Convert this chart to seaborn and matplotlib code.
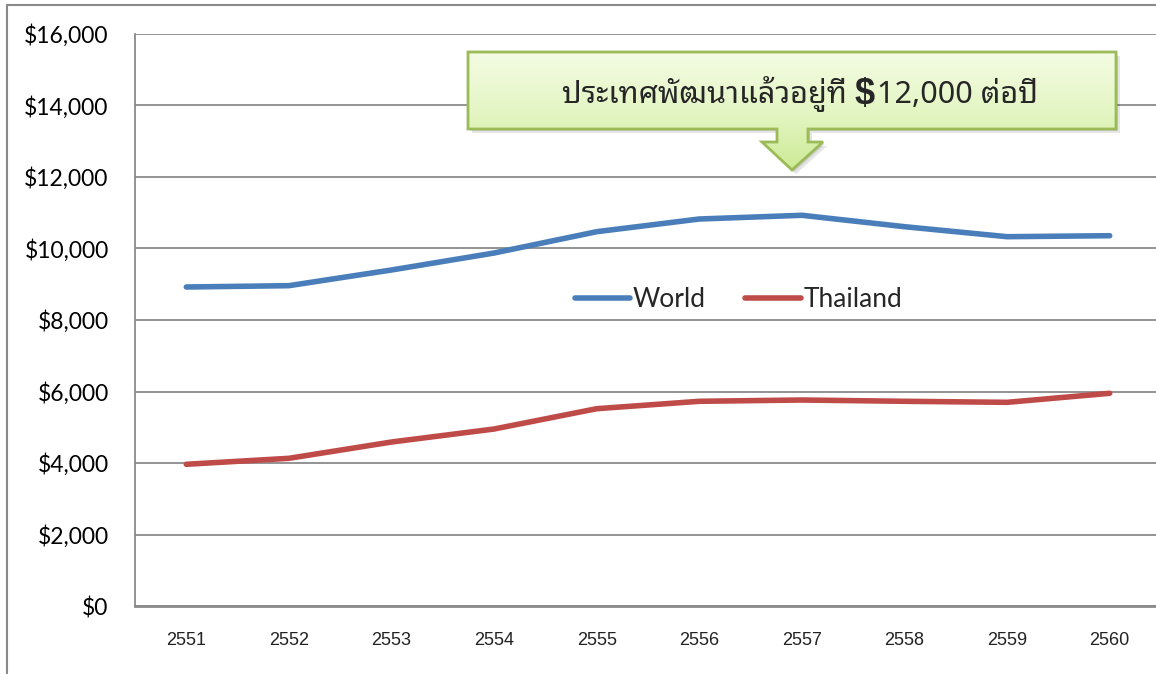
import numpy as np
import pandas as pd
import matplotlib
matplotlib.use("Agg")
import matplotlib.pyplot as plt
from matplotlib import font_manager as fm
from matplotlib.patches import Polygon
from matplotlib.colors import LinearSegmentedColormap
from matplotlib.ticker import FuncFormatter, FixedLocator
import seaborn as sns

# data
years = [2551, 2552, 2553, 2554, 2555, 2556, 2557, 2558, 2559, 2560]
world = [8923, 8960, 9399, 9874, 10470, 10825, 10929, 10610, 10330, 10358]
thailand = [3964, 4131, 4587, 4951, 5519, 5726, 5762, 5726, 5697, 5950]
series_names = ["World", "Thailand"]
series_colors = ["#4A7EBB", "#BE4B48"]
y_ticks = [0, 2000, 4000, 6000, 8000, 10000, 12000, 14000, 16000]
callout_text = "ประเทศพัฒนาแล้วอยู่ที่ "
callout_dollar = "$"
callout_amount = "12,000 ต่อปี"


def find_thai_font():
    # look for any installed family that has Thai glyphs
    try:
        from fontTools.ttLib import TTFont
    except ImportError:
        return None
    found = {}
    for f in fm.fontManager.ttflist:
        if f.name in found:
            continue
        try:
            tt = TTFont(f.fname, fontNumber=0, lazy=True)
            cmap = tt.getBestCmap()
        except Exception:
            continue
        if cmap and 0x0E1B in cmap and 0x0E48 in cmap:
            found[f.name] = f.fname
    prefs = ["Noto Sans Thai Looped", "Noto Sans Thai", "Loma", "Garuda",
             "Kinnari", "Norasi", "Waree", "Sawasdee", "Umpush", "Laksaman"]
    for p in prefs:
        if p in found:
            return p
    return next(iter(found), None)


sns.set_style("white")
thai_font = find_thai_font()
thai_family = [thai_font, "DejaVu Sans"] if thai_font else ["DejaVu Sans"]
plt.rcParams["font.family"] = ["Lato", "DejaVu Sans"]

W, H = 1156, 674
fig = plt.figure(figsize=(W / 100, H / 100), dpi=100)
fig.patch.set_facecolor("white")

# plot area in pixels: left 135, top 34, bottom 606, 102.6 px per category
ax = fig.add_axes([135 / W, (H - 606) / H, 1026 / W, 572 / H])

df = pd.DataFrame({
    "year": years * 2,
    "value": world + thailand,
    "series": [series_names[0]] * len(years) + [series_names[1]] * len(years),
})
sns.lineplot(data=df, x="year", y="value", hue="series",
             palette=dict(zip(series_names, series_colors)),
             linewidth=4, solid_capstyle="round", ax=ax)

ax.set_xlim(years[0] - 0.5, years[-1] + 0.5)
ax.set_ylim(y_ticks[0], y_ticks[-1])
ax.set_xlabel("")
ax.set_ylabel("")

grid_c = "#8a8a8a"
ax.yaxis.set_major_locator(FixedLocator(y_ticks))
ax.yaxis.set_major_formatter(FuncFormatter(lambda v, p: "${:,.0f}".format(v)))
ax.grid(axis="y", color=grid_c, linewidth=1.3)
ax.set_axisbelow(True)

ax.xaxis.set_major_locator(FixedLocator(years))
ax.set_xticklabels([str(y) for y in years])
ax.xaxis.set_minor_locator(FixedLocator([y - 0.5 for y in years] + [years[-1] + 0.5]))
ax.tick_params(axis="x", which="major", length=0, pad=19, labelsize=13, labelcolor="#222222")
ax.tick_params(axis="x", which="minor", length=7, width=1.2, color=grid_c, direction="out")
ax.tick_params(axis="y", length=7, width=1.2, color=grid_c, direction="out", pad=12,
               labelsize=16.5, labelcolor="black")
for lab in ax.get_xticklabels():
    lab.set_family(["Liberation Sans Narrow", "Liberation Sans", "DejaVu Sans"])

for s in ["top", "right"]:
    ax.spines[s].set_visible(False)
ax.spines["left"].set_color(grid_c)
ax.spines["left"].set_linewidth(1.3)
ax.spines["bottom"].set_color(grid_c)
ax.spines["bottom"].set_linewidth(2)

leg = ax.legend(loc="center", bbox_to_anchor=(0.588, 0.535), ncol=2, frameon=False,
                fontsize=19, handlelength=2.1, handletextpad=0.1, columnspacing=1.5)
for line in leg.get_lines():
    line.set_linewidth(4)

# overlay in pixel coordinates for the frame and the callout
ov = fig.add_axes([0, 0, 1, 1], zorder=5)
ov.set_xlim(0, W)
ov.set_ylim(H, 0)
ov.axis("off")
ov.patch.set_alpha(0)

ov.plot([7, 7], [5, H], color=grid_c, linewidth=1.5)
ov.plot([7, W], [5, 5], color=grid_c, linewidth=1.5)

shape = [(468, 52), (1116, 52), (1116, 129), (808, 129), (808, 142), (823, 142),
         (792, 170), (762, 142), (777, 142), (777, 129), (468, 129)]
shadow = Polygon([(x + 4, y + 4) for x, y in shape], closed=True,
                 facecolor="#000000", alpha=0.10, edgecolor="none")
ov.add_patch(shadow)
shadow2 = Polygon([(x + 2, y + 2) for x, y in shape], closed=True,
                  facecolor="#000000", alpha=0.10, edgecolor="none")
ov.add_patch(shadow2)
body = Polygon(shape, closed=True, facecolor="none", edgecolor="#9BBB59", linewidth=2)
clip = Polygon(shape, closed=True, facecolor="none", edgecolor="none")
ov.add_patch(clip)
green = LinearSegmentedColormap.from_list("callout", ["#F4FCE4", "#E4F6C4", "#CDEB96"])
grad = np.linspace(0, 1, 256).reshape(-1, 1)
img = ov.imshow(grad, extent=(468, 1116, 170, 52), cmap=green, aspect="auto",
                interpolation="bilinear", zorder=2)
img.set_clip_path(clip)
body.set_zorder(3)
ov.add_patch(body)
ov.set_xlim(0, W)
ov.set_ylim(H, 0)

t1 = ov.text(0, 103, callout_text, fontsize=22, family=thai_family, va="baseline", ha="left", zorder=4)
t2 = ov.text(0, 104, callout_dollar, fontsize=26, family=["Liberation Sans", "DejaVu Sans"],
             weight="bold", va="baseline", ha="left", zorder=4)
t3 = ov.text(0, 103, callout_amount, fontsize=22, family=thai_family, va="baseline", ha="left", zorder=4)

fig.canvas.draw()
r = fig.canvas.get_renderer()
inv = ov.transData.inverted()
widths = []
for t in (t1, t2, t3):
    bb = t.get_window_extent(r)
    (x0, _), (x1, _) = inv.transform([(bb.x0, bb.y0), (bb.x1, bb.y1)])
    widths.append(x1 - x0)
x = 799 - sum(widths) / 2
for t, w in zip((t1, t2, t3), widths):
    t.set_x(x)
    x += w + (2 if t is t2 else 0)

fig.savefig("out.png", dpi=100)
